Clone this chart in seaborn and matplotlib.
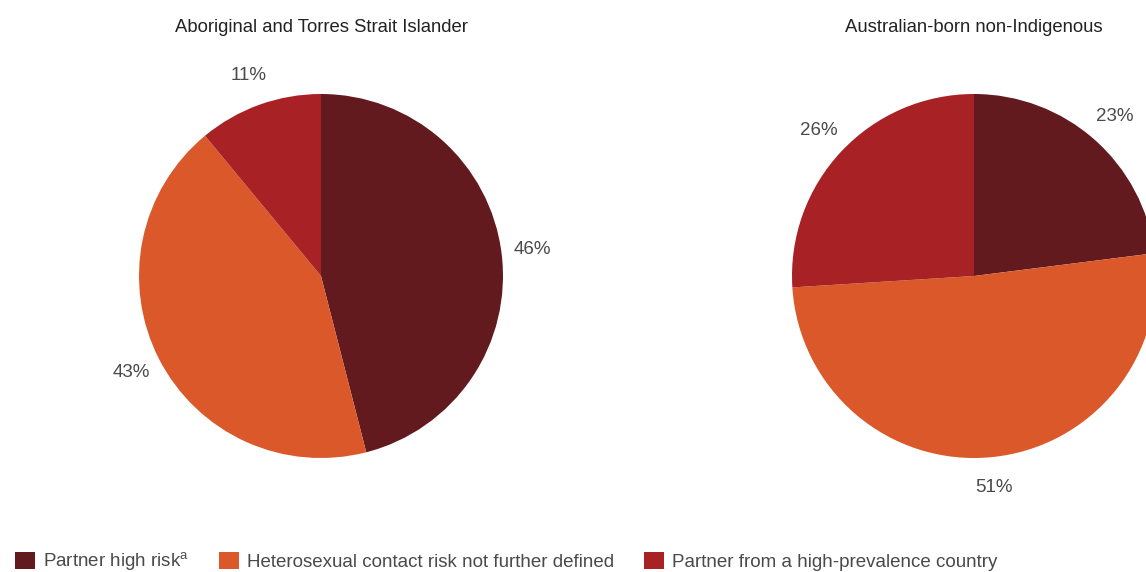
import matplotlib
matplotlib.use("Agg")
import matplotlib.pyplot as plt
from matplotlib.patches import Patch
import seaborn as sns

# Exposure categories and shares (%) per population group
categories = [
    "Partner high risk$^{\\mathrm{a}}$",
    "Heterosexual contact risk not further defined",
    "Partner from a high-prevalence country",
]
groups = ["Aboriginal and Torres Strait Islander", "Australian-born non-Indigenous"]
indigenous = [46, 43, 11]
non_indigenous = [23, 51, 26]

sns.set_theme(style="white")
plt.rcParams["font.family"] = ["Liberation Sans", "DejaVu Sans"]
plt.rcParams["mathtext.fontset"] = "custom"
plt.rcParams["mathtext.rm"] = "Liberation Sans"

palette = sns.color_palette(["#621a1f", "#da5829", "#a82225"])

W, H = 1146, 572
fig = plt.figure(figsize=(W / 100, H / 100), dpi=100)

R = 182  # pie radius in px
centers = [(321, 276), (974, 276)]
series = [indigenous, non_indigenous]

for (cx, cy), vals, title in zip(centers, series, groups):
    ax = fig.add_axes([(cx - R) / W, (H - cy - R) / H, 2 * R / W, 2 * R / H])
    ax.pie(
        vals,
        colors=palette,
        startangle=90,
        counterclock=False,
        autopct=lambda p: f"{p:.0f}%",
        pctdistance=1.17,
        wedgeprops=dict(linewidth=0),
        textprops=dict(color="#4a4a4a", fontsize=13.5),
    )
    ax.set_xlim(-1, 1)
    ax.set_ylim(-1, 1)
    ax.set_aspect("equal")
    ax.axis("off")
    fig.text(cx / W, 1 - 27 / H, title, ha="center", va="center",
             fontsize=13.3, color="#222222")

handles = [Patch(facecolor=c, edgecolor="none") for c in palette]
fig.legend(
    handles, categories,
    loc="center left", bbox_to_anchor=(15 / W, 1 - 561.5 / H),
    ncol=3, frameon=False, fontsize=13.5, labelcolor="#4a4a4a",
    borderpad=0, borderaxespad=0,
    handlelength=1.07, handleheight=1.07, handletextpad=0.43,
    columnspacing=1.6,
)

fig.savefig("out.png", dpi=100)
